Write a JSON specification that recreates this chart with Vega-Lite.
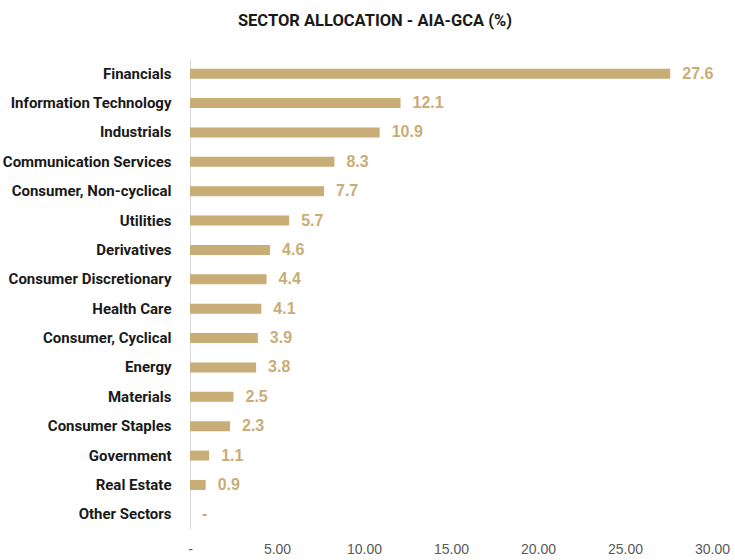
{
  "$schema": "https://vega.github.io/schema/vega-lite/v6.json",
  "autosize": "none",
  "padding": {"left": 190, "top": 59, "right": 23, "bottom": 31},
  "width": 522,
  "height": 470,
  "background": "white",
  "config": {"view": {"stroke": null}},
  "title": {
    "text": "SECTOR ALLOCATION - AIA-GCA (%)",
    "font": "Roboto, sans-serif",
    "fontSize": 16.5,
    "fontWeight": "bold",
    "color": "#1a1a1a",
    "anchor": "middle",
    "dx": -76,
    "offset": 30
  },
  "data": {
    "values": [
      {"sector": "Financials", "value": 27.6, "label": "27.6"},
      {"sector": "Information Technology", "value": 12.1, "label": "12.1"},
      {"sector": "Industrials", "value": 10.9, "label": "10.9"},
      {"sector": "Communication Services", "value": 8.3, "label": "8.3"},
      {"sector": "Consumer, Non-cyclical", "value": 7.7, "label": "7.7"},
      {"sector": "Utilities", "value": 5.7, "label": "5.7"},
      {"sector": "Derivatives", "value": 4.6, "label": "4.6"},
      {"sector": "Consumer Discretionary", "value": 4.4, "label": "4.4"},
      {"sector": "Health Care", "value": 4.1, "label": "4.1"},
      {"sector": "Consumer, Cyclical", "value": 3.9, "label": "3.9"},
      {"sector": "Energy", "value": 3.8, "label": "3.8"},
      {"sector": "Materials", "value": 2.5, "label": "2.5"},
      {"sector": "Consumer Staples", "value": 2.3, "label": "2.3"},
      {"sector": "Government", "value": 1.1, "label": "1.1"},
      {"sector": "Real Estate", "value": 0.9, "label": "0.9"},
      {"sector": "Other Sectors", "value": 0, "label": "-"}
    ]
  },
  "encoding": {
    "y": {
      "field": "sector",
      "type": "nominal",
      "sort": null,
      "scale": {"paddingInner": 0.66, "paddingOuter": 0.33},
      "axis": {
        "title": null,
        "ticks": false,
        "domain": true,
        "domainColor": "#d9d9d9",
        "domainWidth": 1,
        "labelFont": "Roboto, sans-serif",
        "labelFontSize": 15,
        "labelFontWeight": "bold",
        "labelColor": "#1a1a1a",
        "labelPadding": 19,
        "labelLimit": 200,
        "grid": false
      }
    },
    "x": {
      "field": "value",
      "type": "quantitative",
      "scale": {"domain": [0, 30], "nice": false},
      "axis": {
        "title": null,
        "values": [0, 5, 10, 15, 20, 25, 30],
        "labelExpr": "datum.value == 0 ? '-' : format(datum.value, '.2f')",
        "grid": false,
        "ticks": false,
        "domain": false,
        "labelFont": "Liberation Sans, Open Sans, sans-serif",
        "labelFontSize": 14,
        "labelColor": "#595959",
        "labelPadding": 13,
        "labelFlush": false
      }
    }
  },
  "layer": [
    {
      "mark": {"type": "bar", "color": "#c9ad77"}
    },
    {
      "mark": {
        "type": "text",
        "align": "left",
        "baseline": "middle",
        "dx": 12,
        "font": "Liberation Sans, Open Sans, sans-serif",
        "fontSize": 16,
        "fontWeight": "bold",
        "color": "#c9ad77"
      },
      "encoding": {"text": {"field": "label"}}
    }
  ]
}
